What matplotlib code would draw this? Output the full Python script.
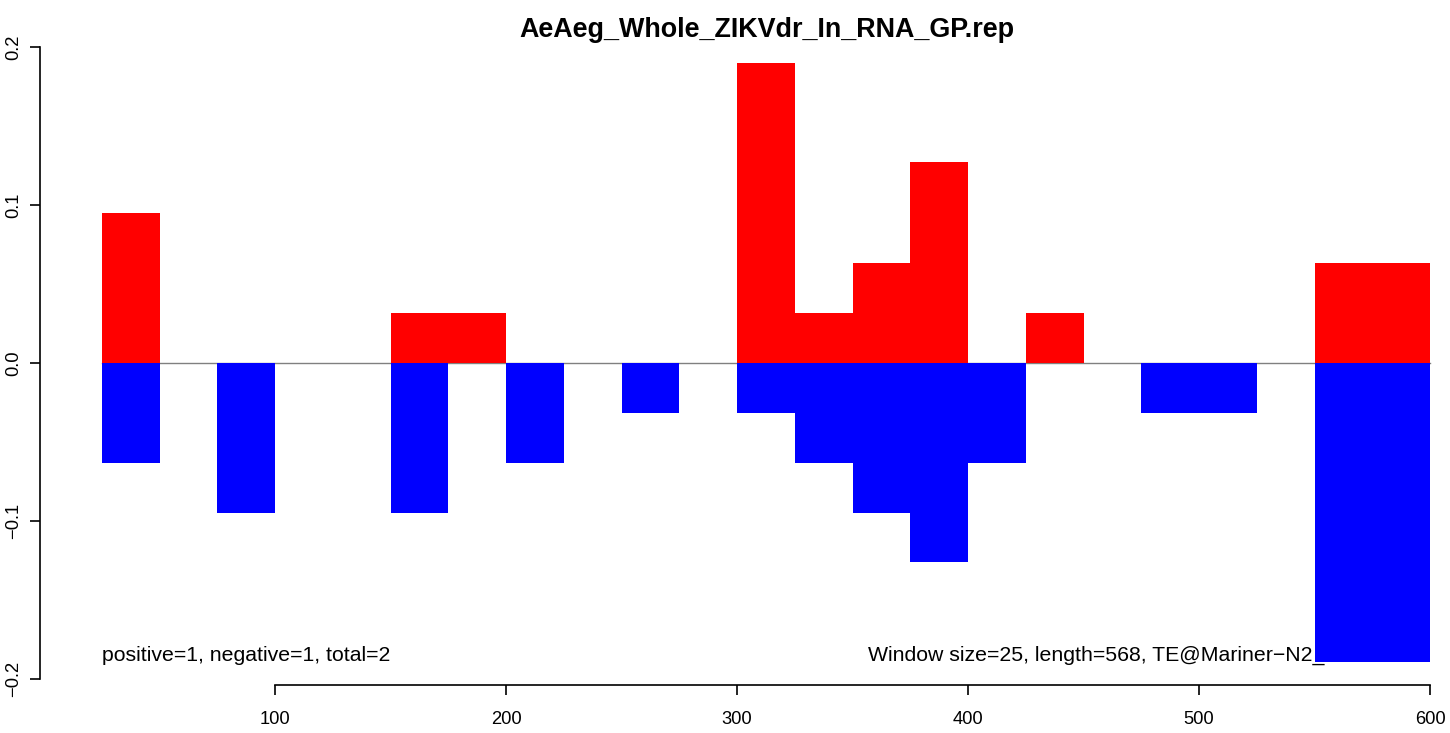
import matplotlib
matplotlib.use("Agg")
import matplotlib.pyplot as plt

plt.rcParams['font.family'] = ['Liberation Sans', 'DejaVu Sans']

title = "AeAeg_Whole_ZIKVdr_In_RNA_GP.rep"
win = 25
# bin start positions
starts = [25, 50, 75, 100, 125, 150, 175, 200, 225, 250, 275, 300,
          325, 350, 375, 400, 425, 450, 475, 500, 525, 550, 575]
pos_vals = [0.095, 0, 0, 0, 0, 0.0317, 0.0317, 0, 0, 0, 0, 0.19,
            0.0317, 0.0634, 0.127, 0, 0.0317, 0, 0, 0, 0, 0.0634, 0.0634]
neg_vals = [-0.0634, 0, -0.095, 0, 0, -0.095, 0, -0.0634, 0, -0.0317, 0, -0.0317,
            -0.0634, -0.095, -0.126, -0.0634, 0, 0, -0.0317, -0.0317, 0, -0.189, -0.189]
left_note = "positive=1, negative=1, total=2"
right_note = "Window size=25, length=568, TE@Mariner\u2212N2_AAe:1\u2212568"

W, H = 1450, 733
fig = plt.figure(figsize=(W / 100, H / 100), dpi=100)
ax = fig.add_axes([40 / W, (H - 685) / H, 1410 / W, (685 - 22) / H])

# pixel mapping
xmin = 100 - 235 / 2.31
xmax = 600 + 20 / 2.31
ymin = -(685 - 363) / 1580
ymax = (363 - 22) / 1580
ax.set_xlim(xmin, xmax)
ax.set_ylim(ymin, ymax)

ax.plot([starts[0], starts[-1] + win], [0, 0], color='#808080', lw=1, zorder=1)
ax.bar(starts, pos_vals, width=win, align='edge', color='red', lw=0, zorder=3)
ax.bar(starts, neg_vals, width=win, align='edge', color='blue', lw=0, zorder=3)

# notes sit under the bars, as in the original
ax.text(starts[0], -0.185, left_note, fontsize=15.3, ha='left', va='center', zorder=2)
ax.text(600, -0.185, right_note, fontsize=15.3, ha='right', va='center', zorder=2)

fig.text(767 / W, 1 - 30 / H, title, fontsize=19.4, fontweight='bold',
         ha='center', va='center')

for s in ['top', 'right']:
    ax.spines[s].set_visible(False)
ax.spines['left'].set_bounds(-0.2, 0.2)
ax.spines['bottom'].set_bounds(100, 600)
ax.spines['left'].set_linewidth(1.2)
ax.spines['bottom'].set_linewidth(1.2)

ax.set_xticks([100, 200, 300, 400, 500, 600])
ax.set_xticklabels(['100', '200', '300', '400', '500', '600'], fontsize=13.2)
ax.set_yticks([-0.2, -0.1, 0.0, 0.1, 0.2])
ax.set_yticklabels(['\u22120.2', '\u22120.1', '0.0', '0.1', '0.2'], fontsize=13.2,
                   rotation=90, va='center')
ax.tick_params(axis='both', length=7, width=1.2)
ax.tick_params(axis='x', pad=12)
ax.tick_params(axis='y', pad=6)
ax.patch.set_alpha(0)

fig.savefig("out.png", dpi=100)
